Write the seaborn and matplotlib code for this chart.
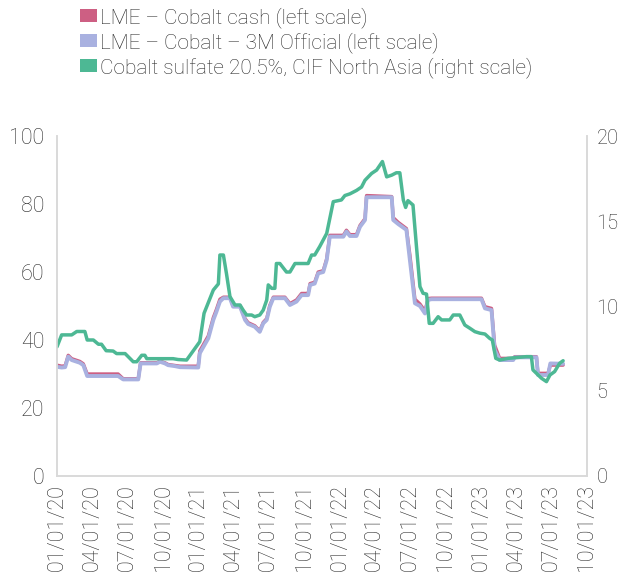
import pandas as pd
import matplotlib.pyplot as plt
import matplotlib.dates as mdates
from matplotlib.patches import Patch
import seaborn as sns

# LME cobalt prices (left scale) - both series share the same dates
lme_dates = [
    "2020-01-01", "2020-01-13", "2020-01-22", "2020-01-30", "2020-02-08", "2020-02-29",
    "2020-03-09", "2020-03-19", "2020-06-07", "2020-06-20", "2020-07-29", "2020-08-04",
    "2020-09-15", "2020-09-23", "2020-10-06", "2020-10-14", "2020-11-01", "2020-11-14",
    "2020-12-31", "2021-01-04", "2021-01-26", "2021-02-08", "2021-02-16", "2021-02-25",
    "2021-03-06", "2021-03-23", "2021-03-31", "2021-04-18", "2021-05-01", "2021-05-09",
    "2021-05-26", "2021-06-08", "2021-06-17", "2021-06-26", "2021-07-04", "2021-07-13",
    "2021-08-12", "2021-08-25", "2021-09-11", "2021-09-24", "2021-10-11", "2021-10-16",
    "2021-10-28", "2021-11-06", "2021-11-19", "2021-11-28", "2021-12-06", "2022-01-10",
    "2022-01-18", "2022-01-27", "2022-02-13", "2022-02-22", "2022-03-07", "2022-03-11",
    "2022-05-15", "2022-05-19", "2022-06-01", "2022-06-22", "2022-07-01", "2022-07-14",
    "2022-07-27", "2022-08-09", "2022-08-17", "2022-08-26", "2023-01-02", "2023-01-11",
    "2023-01-28", "2023-02-05", "2023-02-18", "2023-03-25", "2023-03-29", "2023-05-24",
    "2023-05-28", "2023-06-23", "2023-06-29", "2023-08-01",
]
cash_values = [
    32.6, 32.3, 32.4, 35.5, 34.5, 33.7,
    33.0, 30.0, 30.0, 28.6, 28.6, 33.3,
    33.3, 33.8, 33.3, 32.8, 32.5, 32.3,
    32.3, 36.8, 41.2, 46.6, 49.0, 52.0,
    52.6, 52.6, 50.1, 50.1, 46.3, 45.1,
    44.2, 42.7, 45.2, 46.3, 50.2, 52.6,
    52.6, 50.7, 51.8, 53.7, 53.7, 56.6,
    57.0, 60.0, 60.4, 63.9, 70.8, 70.8,
    72.3, 71.0, 71.0, 73.7, 75.7, 82.5,
    82.2, 76.0, 74.6, 72.8, 65.0, 52.0,
    50.6, 48.5, 52.2, 52.3, 52.3, 49.8,
    49.3, 38.5, 34.6, 34.6, 35.1, 35.1,
    30.2, 30.2, 32.6, 32.6,
]
m3_values = [
    32.1, 31.9, 32.0, 35.1, 34.1, 33.3,
    32.6, 29.4, 29.4, 28.4, 28.4, 33.1,
    33.1, 33.6, 33.1, 32.6, 32.3, 32.0,
    31.9, 36.1, 40.5, 45.9, 48.3, 51.3,
    52.3, 52.3, 49.8, 49.8, 45.9, 44.7,
    43.9, 42.4, 44.9, 45.9, 49.8, 52.3,
    52.3, 50.3, 51.3, 53.2, 53.2, 56.2,
    56.6, 59.6, 60.0, 63.5, 70.4, 70.4,
    71.9, 70.6, 70.6, 73.3, 75.3, 82.0,
    82.0, 75.3, 74.1, 72.4, 63.5, 50.8,
    50.0, 47.8, 51.8, 52.0, 52.0, 49.3,
    48.8, 37.1, 34.1, 34.1, 34.9, 34.9,
    29.7, 29.7, 33.1, 33.0,
]

# Cobalt sulfate 20.5%, CIF North Asia (right scale)
sulfate_dates = [
    "2020-01-01", "2020-01-13", "2020-02-08", "2020-02-21", "2020-03-13", "2020-03-19",
    "2020-04-04", "2020-04-17", "2020-04-25", "2020-05-07", "2020-05-25", "2020-06-03",
    "2020-06-25", "2020-07-16", "2020-07-25", "2020-08-07", "2020-08-15", "2020-08-20",
    "2020-10-27", "2020-11-09", "2020-12-01", "2021-01-04", "2021-01-15", "2021-02-08",
    "2021-02-21", "2021-02-25", "2021-03-06", "2021-03-14", "2021-03-23", "2021-04-05",
    "2021-04-18", "2021-04-26", "2021-05-05", "2021-05-18", "2021-05-26", "2021-06-08",
    "2021-06-17", "2021-06-26", "2021-06-30", "2021-07-09", "2021-07-17", "2021-07-21",
    "2021-07-30", "2021-08-16", "2021-08-25", "2021-09-07", "2021-10-11", "2021-10-20",
    "2021-10-28", "2021-11-10", "2021-11-28", "2021-12-15", "2022-01-05", "2022-01-14",
    "2022-01-27", "2022-02-13", "2022-02-26", "2022-03-07", "2022-03-24", "2022-04-06",
    "2022-04-21", "2022-05-02", "2022-05-15", "2022-05-27", "2022-06-05", "2022-06-14",
    "2022-06-20", "2022-06-26", "2022-07-09", "2022-07-18", "2022-07-27", "2022-08-04",
    "2022-08-13", "2022-08-20", "2022-08-30", "2022-09-12", "2022-09-21", "2022-10-12",
    "2022-10-21", "2022-11-07", "2022-11-20", "2022-12-03", "2022-12-16", "2022-12-29",
    "2023-01-11", "2023-01-23", "2023-01-30", "2023-02-08", "2023-02-18", "2023-03-12",
    "2023-04-28", "2023-05-11", "2023-05-15", "2023-05-24", "2023-06-06", "2023-06-19",
    "2023-06-28", "2023-07-10", "2023-07-23", "2023-08-01",
]
sulfate_values = [
    7.6, 8.3, 8.3, 8.5, 8.5, 8.0,
    8.0, 7.75, 7.75, 7.37, 7.35, 7.2,
    7.2, 6.72, 6.72, 7.1, 7.1, 6.9,
    6.9, 6.85, 6.82, 7.9, 9.57, 10.94,
    11.3, 13.0, 13.0, 11.9, 10.55, 10.06,
    10.06, 9.76, 9.47, 9.47, 9.37, 9.47,
    9.76, 10.35, 11.24, 11.04, 11.04, 12.5,
    12.5, 12.0, 12.0, 12.5, 12.5, 13.0,
    13.0, 13.5, 14.27, 16.14, 16.24, 16.5,
    16.6, 16.8, 17.0, 17.4, 17.8, 18.0,
    18.5, 17.6, 17.7, 17.84, 17.84, 16.24,
    15.8, 16.2, 15.94, 13.5, 11.14, 10.75,
    10.7, 8.98, 8.98, 9.37, 9.18, 9.18,
    9.47, 9.47, 8.88, 8.69, 8.49, 8.4,
    8.35, 8.1, 8.0, 6.92, 6.82, 6.92,
    7.02, 7.02, 6.24, 6.04, 5.75, 5.55,
    5.94, 6.14, 6.63, 6.78,
]

labels = [
    "LME – Cobalt cash (left scale)",
    "LME – Cobalt – 3M Official (left scale)",
    "Cobalt sulfate 20.5%, CIF North Asia (right scale)",
]
colors = ["#CD5F83", "#A9B1E0", "#4DB894"]

lme = pd.DataFrame({
    "date": pd.to_datetime(lme_dates),
    "cash": cash_values,
    "m3": m3_values,
})
sulfate = pd.DataFrame({
    "date": pd.to_datetime(sulfate_dates),
    "value": sulfate_values,
})

sns.set_theme(style="white")
plt.rcParams["font.family"] = ["Roboto", "DejaVu Sans"]
plt.rcParams["font.weight"] = "light"
text_color = "#2b2b2b"
spine_color = "#d9d9d9"

fig = plt.figure(figsize=(6.21, 5.79), dpi=100)
ax = fig.add_axes([0.0918, 0.178, 0.853, 0.587])

sns.lineplot(data=lme, x="date", y="cash", ax=ax, color=colors[0], linewidth=2.4)
sns.lineplot(data=lme, x="date", y="m3", ax=ax, color=colors[1], linewidth=2.8)

ax2 = ax.twinx()
sns.lineplot(data=sulfate, x="date", y="value", ax=ax2, color=colors[2], linewidth=2.5)

ax.set_ylim(0, 100)
ax.set_yticks(range(0, 101, 20))
ax2.set_ylim(0, 20)
ax2.set_yticks(range(0, 21, 5))
ax.set_xlim(pd.Timestamp("2020-01-01"), pd.Timestamp("2023-10-01"))
ax.xaxis.set_major_locator(mdates.MonthLocator(bymonth=[1, 4, 7, 10]))
ax.xaxis.set_major_formatter(mdates.DateFormatter("%m/%d/%y"))

for a in (ax, ax2):
    a.set_xlabel("")
    a.set_ylabel("")
    a.tick_params(length=0, labelsize=15.5, labelcolor=text_color)
    a.spines["top"].set_visible(False)
    for s in ("left", "right", "bottom"):
        a.spines[s].set_color(spine_color)
        a.spines[s].set_linewidth(1.2)
ax.tick_params(axis="x", rotation=90, pad=6)
ax.tick_params(axis="y", pad=9)
ax2.tick_params(axis="y", pad=7, labelsize=14.5)

handles = [Patch(facecolor=c, edgecolor="none") for c in colors]
fig.legend(handles, labels, loc="upper left", bbox_to_anchor=(0.108, 1.01),
           frameon=False, fontsize=15, handlelength=0.85, handleheight=0.6,
           handletextpad=0.15, labelspacing=0.2, labelcolor=text_color,
           borderaxespad=0.2)

fig.savefig("out.png", dpi=100)
